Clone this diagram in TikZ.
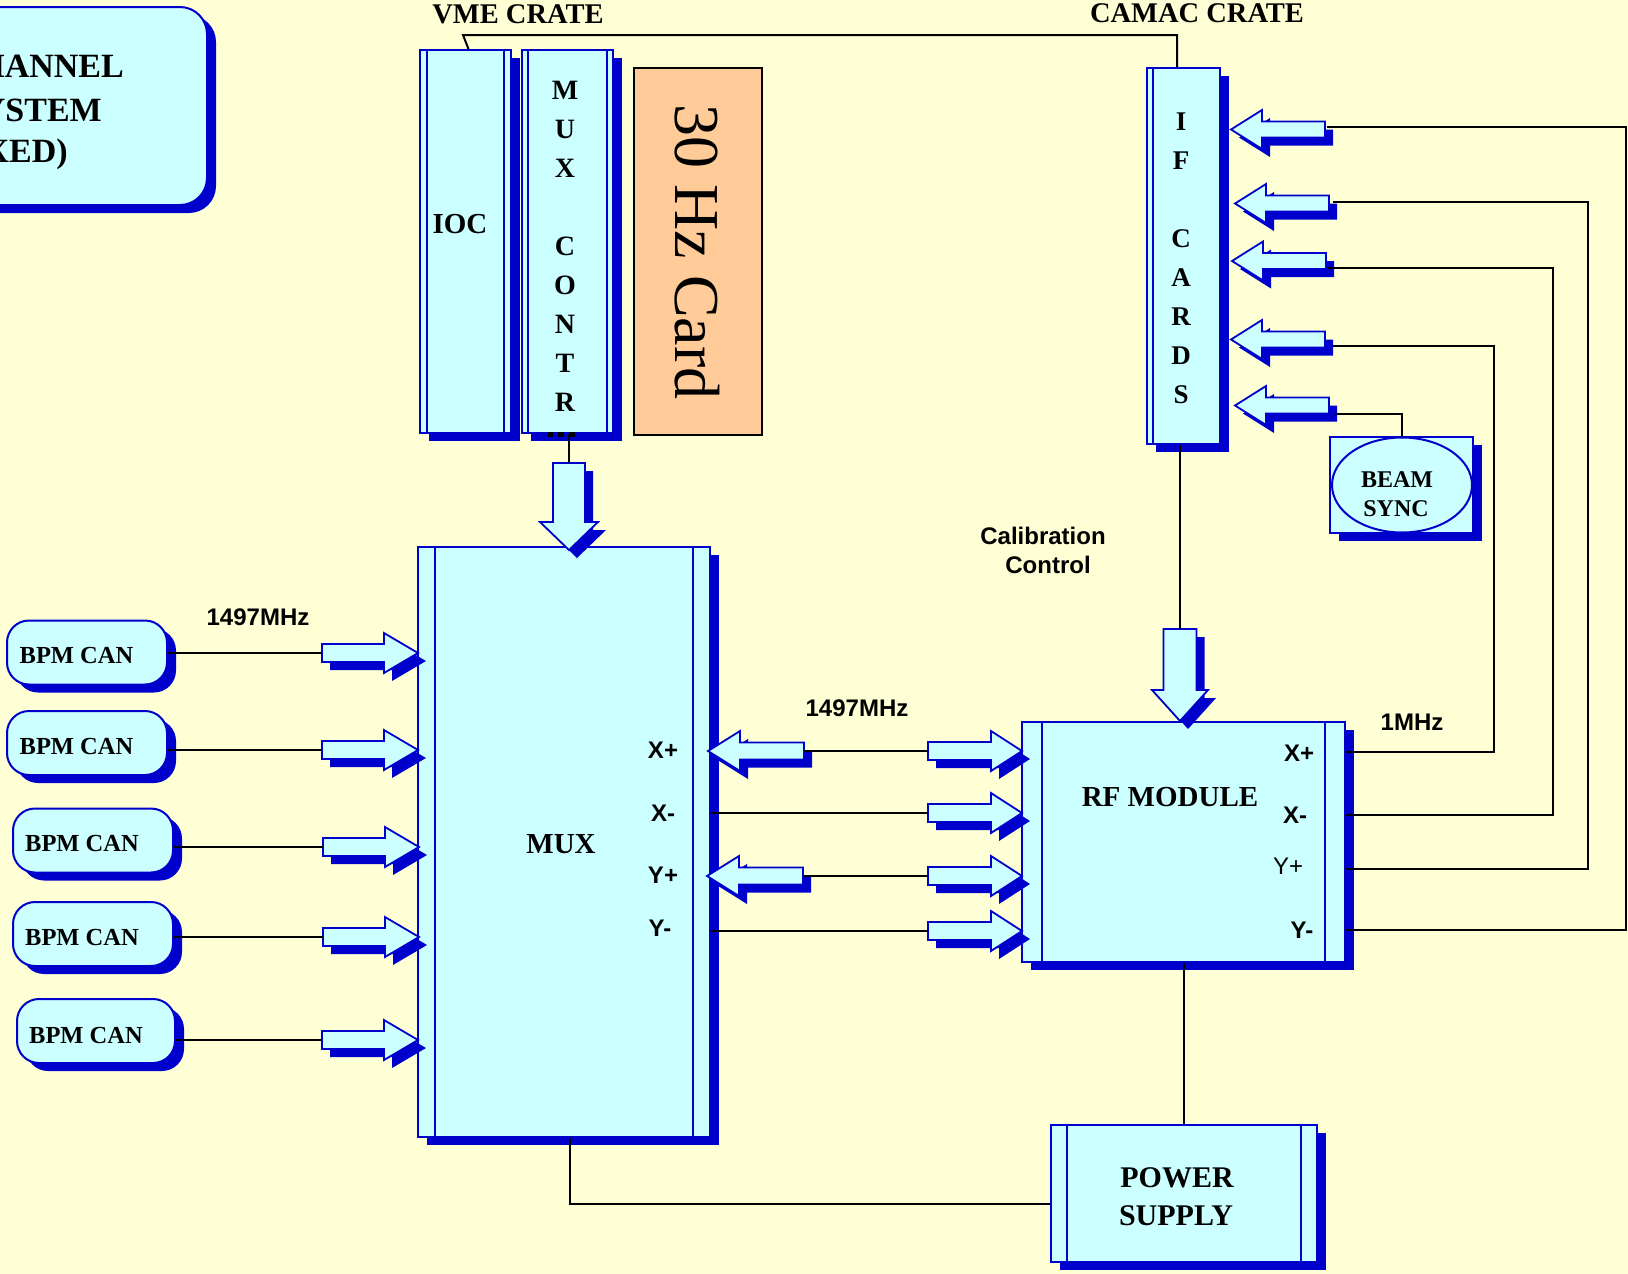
\documentclass[tikz,border=0pt]{standalone}
\usepackage{fontspec}
\newfontfamily\tms{Liberation Serif}
\newfontfamily\arl{Liberation Sans}
\usetikzlibrary{shadows,calc,shapes.geometric}
\definecolor{bgyel}{RGB}{255,255,214}
\definecolor{cyanf}{RGB}{204,255,255}
\definecolor{bblue}{RGB}{0,0,204}
\definecolor{peach}{RGB}{255,204,153}
\newcommand\serifb[1]{\tms\bfseries\fontsize{#1}{#1}\selectfont}
\newcommand\serifbs[2]{\tms\bfseries\fontsize{#1}{#2}\selectfont}
\newcommand\sansb[1]{\arl\bfseries\fontsize{#1}{#1}\selectfont}
\newcommand\sansr[1]{\arl\fontsize{#1}{#1}\selectfont}
% block arrow: tip, angle, length, head length, body half width, head half width
\newcommand\blockarrow[6]{%
  \begin{scope}[shift={(#1)}]
    \begin{scope}[shift={(8,8)},rotate=#2]
      \fill[bblue] (0,0) -- (-#4,#6) -- (-#4,#5) -- (-#3,#5) -- (-#3,-#5) -- (-#4,-#5) -- (-#4,-#6) -- cycle;
    \end{scope}
    \begin{scope}[rotate=#2]
      \filldraw[draw=bblue,fill=cyanf,line width=1.8pt] (0,0) -- (-#4,#6) -- (-#4,#5) -- (-#3,#5) -- (-#3,-#5) -- (-#4,-#5) -- (-#4,-#6) -- cycle;
    \end{scope}
  \end{scope}}
\tikzset{
  bshadow/.style={drop shadow={shadow xshift=9pt,shadow yshift=-8pt,fill=bblue,opacity=1}},
  plainbox/.style={draw=bblue,fill=cyanf,line width=2pt,inner sep=0pt,bshadow},
  procbox/.style={plainbox,path picture={\draw[bblue,line width=2pt]
      ([xshift=#1]path picture bounding box.north west) -- ([xshift=#1]path picture bounding box.south west)
      ([xshift=-#1]path picture bounding box.north east) -- ([xshift=-#1]path picture bounding box.south east);}},
  lprocbox/.style={plainbox,path picture={\draw[bblue,line width=2pt]
      ([xshift=#1]path picture bounding box.north west) -- ([xshift=#1]path picture bounding box.south west);}},
  canbox/.style={plainbox,rounded corners=22pt,minimum height=64pt},
  wire/.style={line width=2pt,draw=black},
  txt/.style={inner sep=0pt,text=black},
}
\begin{document}
\begin{tikzpicture}[x=1pt,y=-1pt]
\useasboundingbox (0,0) rectangle (1628,1274);
\fill[bgyel] (0,0) rectangle (1628,1274);
\clip (0,0) rectangle (1628,1274);

% ---- top-left title box (cut off) ----
\node[plainbox,rounded corners=27pt,minimum width=307pt,minimum height=198pt] (sysbox) at (53.5,106) {};
\node[txt,anchor=east,font=\serifb{34}] (sys1) at (124,66) {HANNEL};
\node[txt,anchor=east,font=\serifb{34}] (sys2) at (102,110) {YSTEM};
\node[txt,anchor=east,font=\serifb{34}] (sys3) at (68,154) {XED)};

% ---- crates ----
\node[txt,font=\serifb{28.5}] (vme) at (518,14) {VME CRATE};
\node[txt,font=\serifb{28.5}] (camac) at (1197,13) {CAMAC CRATE};
\coordinate (vmec) at (463,35);

\node[procbox=7pt,minimum width=91pt,minimum height=383pt] (ioc) at (465.5,241.5) {};
\node[txt,font=\serifb{29}] (ioct) at (460,224) {IOC};
\node[procbox=6pt,minimum width=91pt,minimum height=383pt] (mcon) at (567.5,241.5) {};
\node[txt,font=\serifbs{28}{39},align=center] (mcont) at (565,246) {M\\U\\X\\\mbox{}\\C\\O\\N\\T\\R};
\fill[black] (547,432) rectangle (553,437);
\fill[black] (558,432) rectangle (564,437);
\fill[black] (569,432) rectangle (575,437);

\node[draw=black,fill=peach,line width=2pt,minimum width=128pt,minimum height=367pt,inner sep=0pt] (card) at (698,251.5) {};
\node[txt,rotate=-90,font=\tms\fontsize{64}{64}\selectfont] (cardt) at (697,252) {30 Hz Card};

\node[lprocbox=6pt,minimum width=73pt,minimum height=376pt] (ifc) at (1183.5,256) {};
\node[txt,font=\serifbs{27}{39},align=center] (ifct) at (1181,258.5) {I\\F\\\mbox{}\\C\\A\\R\\D\\S};

\node[plainbox,minimum width=143pt,minimum height=96pt] (bsbox) at (1401.5,485) {};
\node[draw=bblue,line width=2pt,ellipse,minimum width=140pt,minimum height=95pt,inner sep=0pt] (bsell) at (1402,485) {};
\node[txt,font=\serifb{24}] (bs1) at (1397,480) {BEAM};
\node[txt,font=\serifb{24}] (bs2) at (1396,509) {SYNC};

% ---- MUX ----
\node[procbox=17pt,minimum width=292pt,minimum height=590pt] (mux) at (564,842) {};
\node[txt,font=\serifb{29}] (muxt) at (561,844) {MUX};
\node[txt,font=\sansb{24}] (mxp) at (663,750) {X+};
\node[txt,font=\sansb{24}] (mxm) at (663,813) {X-};
\node[txt,font=\sansb{24}] (myp) at (663,875) {Y+};
\node[txt,font=\sansb{24}] (mym) at (660,928) {Y-};

% ---- BPM cans ----
\node[canbox,minimum width=160pt] (bpm1) at (87,652.5) {};
\node[canbox,minimum width=160pt] (bpm2) at (87,743) {};
\node[canbox,minimum width=160pt] (bpm3) at (93,840.5) {};
\node[canbox,minimum width=160pt] (bpm4) at (93,934) {};
\node[canbox,minimum width=158pt] (bpm5) at (96,1031) {};
\node[txt,font=\serifb{24.5}] (bpm1t) at (76.5,656) {BPM CAN};
\node[txt,font=\serifb{24.5}] (bpm2t) at (76.5,747) {BPM CAN};
\node[txt,font=\serifb{24.5}] (bpm3t) at (82,843) {BPM CAN};
\node[txt,font=\serifb{24.5}] (bpm4t) at (82,937) {BPM CAN};
\node[txt,font=\serifb{24.5}] (bpm5t) at (86,1035) {BPM CAN};
\node[txt,font=\sansb{24}] (f1497a) at (258,617) {1497MHz};

% ---- RF module ----
\node[procbox=20pt,minimum width=323pt,minimum height=240pt] (rf) at (1183.5,842) {};
\node[txt,font=\serifb{29}] (rft) at (1170,797) {RF MODULE};
\node[txt,font=\sansb{24}] (rxp) at (1299,753) {X+};
\node[txt,font=\sansb{24}] (rxm) at (1295,815) {X-};
\node[txt,font=\sansr{24}] (ryp) at (1288,866) {Y+};
\node[txt,font=\sansb{24}] (rym) at (1302,930) {Y-};
\node[txt,font=\sansb{24}] (f1497b) at (857,708) {1497MHz};
\node[txt,font=\sansb{24}] (f1m) at (1412,722) {1MHz};
\node[txt,font=\sansb{24}] (cal1) at (1043,536) {Calibration};
\node[txt,font=\sansb{24}] (cal2) at (1048,565) {Control};

% ---- power supply ----
\node[procbox=16pt,minimum width=266pt,minimum height=137pt] (ps) at (1184,1193.5) {};
\node[txt,font=\serifb{30}] (ps1) at (1177,1178) {POWER};
\node[txt,font=\serifb{30}] (ps2) at (1176,1216) {SUPPLY};

% ---- arrow coordinates ----
\coordinate (b1tip) at (418,653);  \coordinate (b1tail) at (322,653);
\coordinate (b2tip) at (418,750);  \coordinate (b2tail) at (322,750);
\coordinate (b3tip) at (419,847);  \coordinate (b3tail) at (323,847);
\coordinate (b4tip) at (419,937);  \coordinate (b4tail) at (323,937);
\coordinate (b5tip) at (418,1040); \coordinate (b5tail) at (322,1040);
\coordinate (mdtip) at (569,550);  \coordinate (mdtail) at (569,463);
\coordinate (rdtip) at (1180,721); \coordinate (rdtail) at (1180,629);
\coordinate (mxptip) at (708,751); \coordinate (mxptail) at (804,751);
\coordinate (myptip) at (707,876); \coordinate (myptail) at (803,876);
\coordinate (rxptip) at (1022,751); \coordinate (rxptail) at (928,751);
\coordinate (rxmtip) at (1022,813); \coordinate (rxmtail) at (928,813);
\coordinate (ryptip) at (1022,876); \coordinate (ryptail) at (928,876);
\coordinate (rymtip) at (1022,931); \coordinate (rymtail) at (928,931);
\coordinate (if1tip) at (1231,129.5);
\coordinate (if2tip) at (1235,203.5);
\coordinate (if3tip) at (1232,261);
\coordinate (if4tip) at (1231,339.5);
\coordinate (if5tip) at (1235,405.5);
\coordinate (ifw1) at (1327,127);
\coordinate (ifw2) at (1333,202);
\coordinate (ifw3) at (1328,268);
\coordinate (ifw4) at (1333,346);
\coordinate (ifw5) at (1335,414);

% ---- block arrows ----
\blockarrow{b1tip}{0}{96}{34}{9}{20}
\blockarrow{b2tip}{0}{96}{34}{9}{20}
\blockarrow{b3tip}{0}{96}{34}{9}{20}
\blockarrow{b4tip}{0}{96}{34}{9}{20}
\blockarrow{b5tip}{0}{96}{34}{9}{20}
\blockarrow{mdtip}{-90}{87}{28}{16}{29}
\blockarrow{rdtip}{-90}{92}{31}{16.5}{28}
\blockarrow{mxptip}{180}{96}{32}{8.5}{20}
\blockarrow{myptip}{180}{96}{32}{8.5}{20}
\blockarrow{rxptip}{0}{94}{31}{9}{20}
\blockarrow{rxmtip}{0}{94}{31}{9}{20}
\blockarrow{ryptip}{0}{94}{31}{9}{20}
\blockarrow{rymtip}{0}{94}{31}{9}{20}
\blockarrow{if1tip}{180}{94}{31}{8}{19.5}
\blockarrow{if2tip}{180}{94}{31}{8}{19.5}
\blockarrow{if3tip}{180}{94}{31}{8}{19.5}
\blockarrow{if4tip}{180}{94}{31}{8}{19.5}
\blockarrow{if5tip}{180}{94}{31}{8}{19.5}

% ---- wires ----
\draw[wire] ([xshift=3pt]ioc.north) -- (vmec) -| ([xshift=-6.5pt]ifc.north);
\draw[wire] (mcon.south -| mdtail) -- (mdtail);
\draw[wire] (ifc.south -| rdtail) -- (rdtail);
\draw[wire] (b1tail -| bpm1.east) -- (b1tail);
\draw[wire] (b2tail -| bpm2.east) -- (b2tail);
\draw[wire] (b3tail -| bpm3.east) -- (b3tail);
\draw[wire] (b4tail -| bpm4.east) -- (b4tail);
\draw[wire] (b5tail -| bpm5.east) -- (b5tail);
\draw[wire] (mxptail) -- (rxptail);
\draw[wire] (rxmtail -| mux.east) -- (rxmtail);
\draw[wire] (myptail) -- (ryptail);
\draw[wire] (rymtail -| mux.east) -- (rymtail);
\draw[wire] (rf.east |- 0,752) -| (1494,346) -- (ifw4);
\draw[wire] (rf.east |- 0,815) -| (1553,268) -- (ifw3);
\draw[wire] (rf.east |- 0,869) -| (1588,202) -- (ifw2);
\draw[wire] (rf.east |- 0,930) -| (1626,127) -- (ifw1);
\draw[wire] (ifw5) -| (bsell.north);
\draw[wire] (rf.south) -- (rf.south |- ps.north);
\draw[wire] (ps.west |- 0,1204) -| (mux.south -| 570,0);
\end{tikzpicture}
\end{document}
